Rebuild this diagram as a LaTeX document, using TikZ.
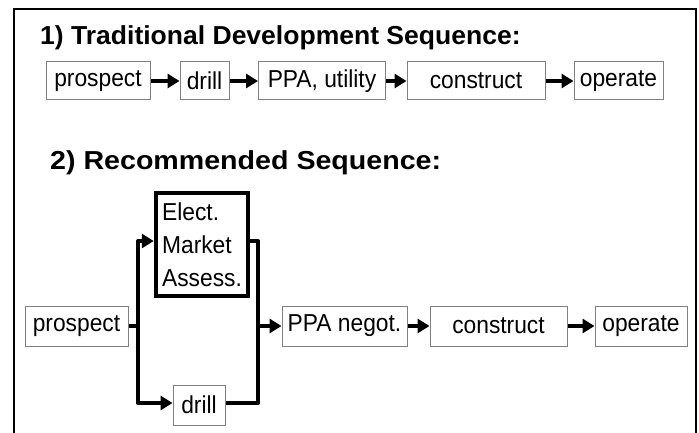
\documentclass[tikz,border=0pt]{standalone}
\usepackage{fontspec}
\setmainfont{Liberation Sans}
\newfontfamily\boxfont[FakeStretch=0.93]{Liberation Sans}
\newfontfamily\headfontA[FakeStretch=1.02]{Liberation Sans}
\newfontfamily\headfontB[FakeStretch=1.1]{Liberation Sans}
\usetikzlibrary{arrows.meta}

\tikzset{
  box/.style={draw=black!50, line width=1pt, fill=white, inner sep=0pt,
    font=\boxfont\fontsize{24.5}{27}\selectfont, minimum height=38pt},
  thickbox/.style={draw=black, line width=4.5pt, inner sep=0pt, align=left,
    font=\boxfont\fontsize{24.5}{33}\selectfont},
  conn/.style={line width=4pt, line join=round},
  arr/.style={conn, -{Triangle[length=12pt,width=14pt]}},
  heading/.style={anchor=base west, inner sep=0pt},
}

\begin{document}
\begin{tikzpicture}[x=1pt,y=-1pt]
  \useasboundingbox (0,0) rectangle (699,433);

  % outer frame (open at the bottom)
  \draw[line width=1.5pt] (14,433) -- (14,9) -- (696,9) -- (696,433);

  % ---- 1) traditional sequence ----
  \node[heading, font=\headfontA\bfseries\fontsize{26}{28}\selectfont] (t1) at (40,45)
    {1) Traditional Development Sequence:};

  \node[box, minimum width=104pt] (p1) at (98,81)    {prospect};
  \node[box, minimum width=49pt]  (d1) at (204.5,81) {drill};
  \node[box, minimum width=127pt] (u1) at (322,81)   {PPA, utility};
  \node[box, minimum width=138pt] (c1) at (476,81)   {construct};
  \node[box, minimum width=89pt]  (o1) at (618.5,81) {operate};

  \draw[arr] (p1) -- (d1);
  \draw[arr] (d1) -- (u1);
  \draw[arr] (u1) -- (c1);
  \draw[arr] (c1) -- (o1);

  % ---- 2) recommended sequence ----
  \node[heading, font=\headfontB\bfseries\fontsize{26}{28}\selectfont] (t2) at (50,169)
    {2) Recommended Sequence:};

  \node[box, minimum width=103pt, minimum height=40pt] (p2) at (76.5,326) {prospect};
  \node[thickbox, minimum width=92pt, minimum height=103pt] (ema) at (202,244.5)
    {Elect.\\Market\\Assess.};
  \node[box, minimum width=52pt, minimum height=40pt] (d2) at (199,405) {drill};
  \node[box, minimum width=125pt, minimum height=40pt] (n2) at (344.5,326) {PPA negot.};
  \node[box, minimum width=137pt, minimum height=40pt] (c2) at (498.5,326) {construct};
  \node[box, minimum width=92pt, minimum height=40pt]  (o2) at (641,326)   {operate};

  % split and join points of the parallel branch
  \coordinate (jl) at (138,0);
  \coordinate (jr) at (258,0);
  \coordinate (top) at (0,241);
  \coordinate (bot) at (0,403);

  \draw[conn] (p2.east) -- (jl |- p2.east);
  \draw[arr] (jl |- bot) -- (jl |- top) -- (ema.west |- top);
  \draw[arr] (jl |- top) -- (jl |- bot) -- (d2.west |- bot);
  \draw[conn] (ema.east |- top) -- (jr |- top) -- (jr |- bot) -- (d2.east |- bot);
  \draw[arr] (jr |- n2.west) -- (n2.west);

  \draw[arr] (n2) -- (c2);
  \draw[arr] (c2) -- (o2);
\end{tikzpicture}
\end{document}
